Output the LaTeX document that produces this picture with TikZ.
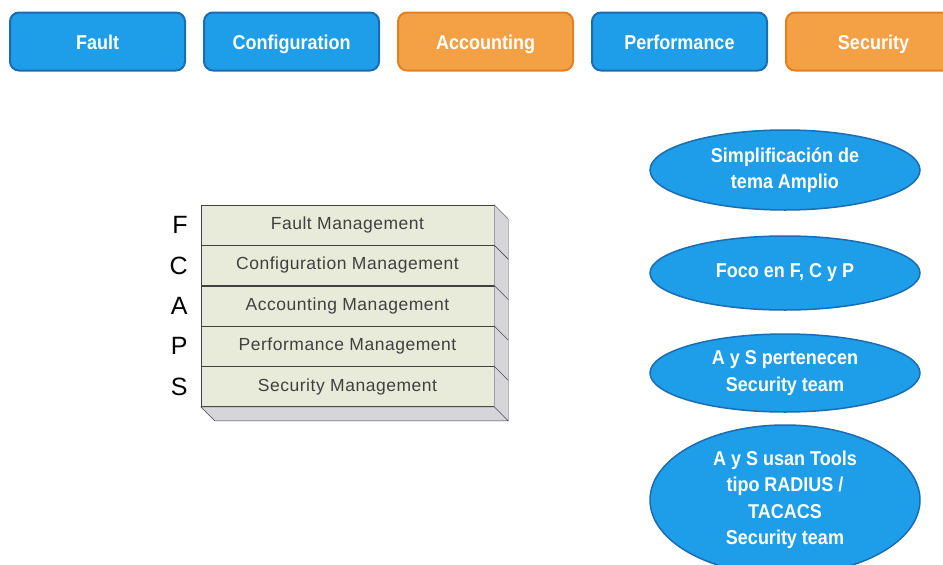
\documentclass[tikz,border=0pt]{standalone}
\usepackage{fontspec}
\setmainfont{Liberation Sans}
\newfontfamily\narrowfont[FakeStretch=0.9]{Liberation Sans}
\newfontfamily\widefont[LetterSpace=3]{Liberation Sans}
\usetikzlibrary{positioning,shapes.geometric,calc}
\definecolor{fblue}{HTML}{1E9DE9}
\definecolor{fblueline}{HTML}{1B6DB3}
\definecolor{forange}{HTML}{F4A044}
\definecolor{forangeline}{HTML}{E5801E}
\definecolor{layerfill}{HTML}{E9EBDA}
\definecolor{sidefill}{HTML}{D5D5DA}

\begin{document}
\begin{tikzpicture}[x=1pt,y=-1pt,node distance=17pt,
  tab/.style={line width=2pt,rounded corners=9pt,minimum width=175pt,minimum height=58pt,text height=16pt,text depth=0pt,text=white,font=\narrowfont\bfseries\fontsize{20}{22}\selectfont},
  bluetab/.style={tab,fill=fblue,draw=fblueline},
  orangetab/.style={tab,fill=forange,draw=forangeline},
  layer/.style={draw=black!75,fill=layerfill,minimum width=293pt,minimum height=40pt,inner sep=0pt,text height=13pt,text depth=4pt,text=black!75,font=\widefont\fontsize{17.5}{20}\selectfont},
  letter/.style={inner sep=0pt,font=\fontsize{25}{28}\selectfont},
  side/.style={draw=black!75,fill=sidefill},
  bubble/.style={ellipse,draw=fblueline,line width=1.5pt,fill=fblue,text=white,minimum width=270pt,inner sep=0pt,align=center,font=\narrowfont\bfseries\fontsize{20}{26.5}\selectfont}]
  \useasboundingbox (0,0) rectangle (943,565);
  % top tabs
  \node[bluetab] (fault) at (97.5,41.5) {Fault};
  \node[bluetab] (config) [right=of fault] {Configuration};
  \node[orangetab] (account) [right=of config] {Accounting};
  \node[bluetab] (perf) [right=of account] {Performance};
  \node[orangetab] (secur) [right=of perf] {Security};
  % FCAPS stack
  \node[layer] (fm) at (347.5,225) {Fault Management};
  \node[layer] (cm) [below=0pt of fm] {Configuration Management};
  \node[layer] (am) [below=0pt of cm] {Accounting Management};
  \node[layer] (pm) [below=0pt of am] {Performance Management};
  \node[layer] (sm) [below=0pt of pm] {Security Management};
  \foreach \r in {fm,cm,am,pm,sm}
    \draw[side] (\r.north east) -- ++(14,14) -- ($(\r.south east)+(14,14)$) -- (\r.south east) -- cycle;
  \draw[side] (sm.south west) -- ++(14,14) -- ($(sm.south east)+(14,14)$) -- (sm.south east) -- cycle;
  \node[letter] (f) [left=13pt of fm] {F};
  \node[letter] (c) [left=13pt of cm] {C};
  \node[letter] (a) [left=13pt of am] {A};
  \node[letter] (p) [left=13pt of pm] {P};
  \node[letter] (s) [left=13pt of sm] {S};
  % notes
  \node[bubble,minimum height=80pt] (simple) at (785,170) {Simplificación de\\tema Amplio};
  \node[bubble,minimum height=74pt] (foco) at (785,273) {Foco en F, C y P};
  \node[bubble,minimum height=78pt] (team) at (785,373) {A y S pertenecen\\Security team};
  \node[bubble,minimum height=150pt] (tools) at (785,500) {A y S usan Tools\\tipo RADIUS /\\TACACS\\Security team};
\end{tikzpicture}
\end{document}
